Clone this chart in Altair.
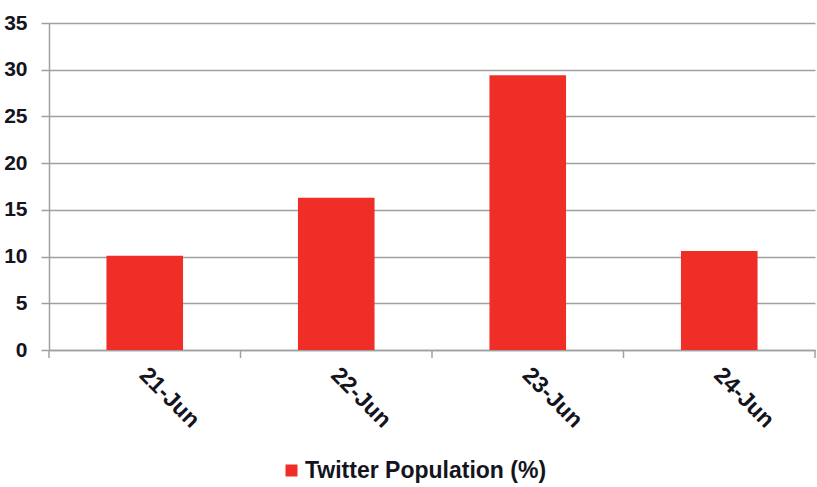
import altair as alt
import pandas as pd

# Daily share of the Twitter population
dates = ["21-Jun", "22-Jun", "23-Jun", "24-Jun"]
share = [10.1, 16.3, 29.4, 10.6]
series_name = "Twitter Population (%)"
y_ticks = [0, 5, 10, 15, 20, 25, 30, 35]

BAR_FRACTION = 0.4
bars_df = pd.DataFrame({
    "date": dates,
    "share": share,
    "series": series_name,
    "slot": list(range(len(dates))),
})
bars_df["x0"] = bars_df["slot"] + (1 - BAR_FRACTION) / 2
bars_df["x1"] = bars_df["slot"] + (1 + BAR_FRACTION) / 2

# category boundaries, where the x-axis ticks sit
bounds_df = pd.DataFrame({"b": list(range(len(dates) + 1))})

W, H = 766, 327
FONT = "Liberation Sans"
GRAY = "#a0a0a0"
INK = "#141420"

label_js = "[" + ",".join(f"'{d}'" for d in dates) + "]"

x_scale = alt.Scale(domain=[0, len(dates)], nice=False, zero=False, padding=0)
x_axis = alt.Axis(
    values=[i + 0.5 for i in range(len(dates))],
    labelExpr=label_js + "[floor(datum.value)]",
    ticks=False,
    grid=False,
    domainColor=GRAY,
    domainWidth=1.5,
    labelAngle=45,
    labelAlign="left",
    labelBaseline="middle",
    labelPadding=21,
    labelOffset=-2,
    labelFont=FONT,
    labelFontSize=23,
    labelFontWeight="bold",
    labelColor=INK,
    labelOverlap=False,
)

bars = alt.Chart(bars_df).mark_bar(color="#ee2e27", orient="vertical").encode(
    x=alt.X("x0:Q", scale=x_scale, title=None, axis=x_axis),
    x2="x1:Q",
    y=alt.Y(
        "share:Q",
        scale=alt.Scale(domain=[0, 35], nice=False),
        title=None,
        axis=alt.Axis(
            values=y_ticks,
            grid=True,
            gridColor=GRAY,
            gridWidth=1.5,
            domainColor=GRAY,
            domainWidth=1.5,
            tickColor=GRAY,
            tickWidth=1.5,
            tickSize=8,
            labelPadding=14,
            labelFont=FONT,
            labelFontSize=21,
            labelFontWeight="bold",
            labelColor=INK,
        ),
    ),
    y2=alt.datum(0),
    color=alt.Color(
        "series:N",
        scale=alt.Scale(range=["#ee2e27"]),
        legend=alt.Legend(
            title=None,
            orient="none",
            legendX=231,
            legendY=436,
            symbolType="square",
            symbolSize=144,
            symbolStrokeWidth=0,
            labelFont=FONT,
            labelFontSize=23,
            labelFontWeight="bold",
            labelColor=INK,
            labelOffset=2,
            labelLimit=500,
        ),
    ),
)

ticks = alt.Chart(bounds_df).mark_rule(color=GRAY, strokeWidth=1.5).encode(
    x=alt.X("b:Q", scale=x_scale, title=None, axis=x_axis),
    y=alt.value(H),
    y2=alt.value(H + 8),
)

chart = alt.layer(bars, ticks).properties(
    width=W,
    height=H,
    autosize=alt.AutoSizeParams(type="none"),
    padding={"left": 49, "top": 23, "right": 2, "bottom": 137},
    background="white",
).configure_view(stroke=None)

chart.save("out.html", embed_options={"renderer": "svg", "actions": False})
